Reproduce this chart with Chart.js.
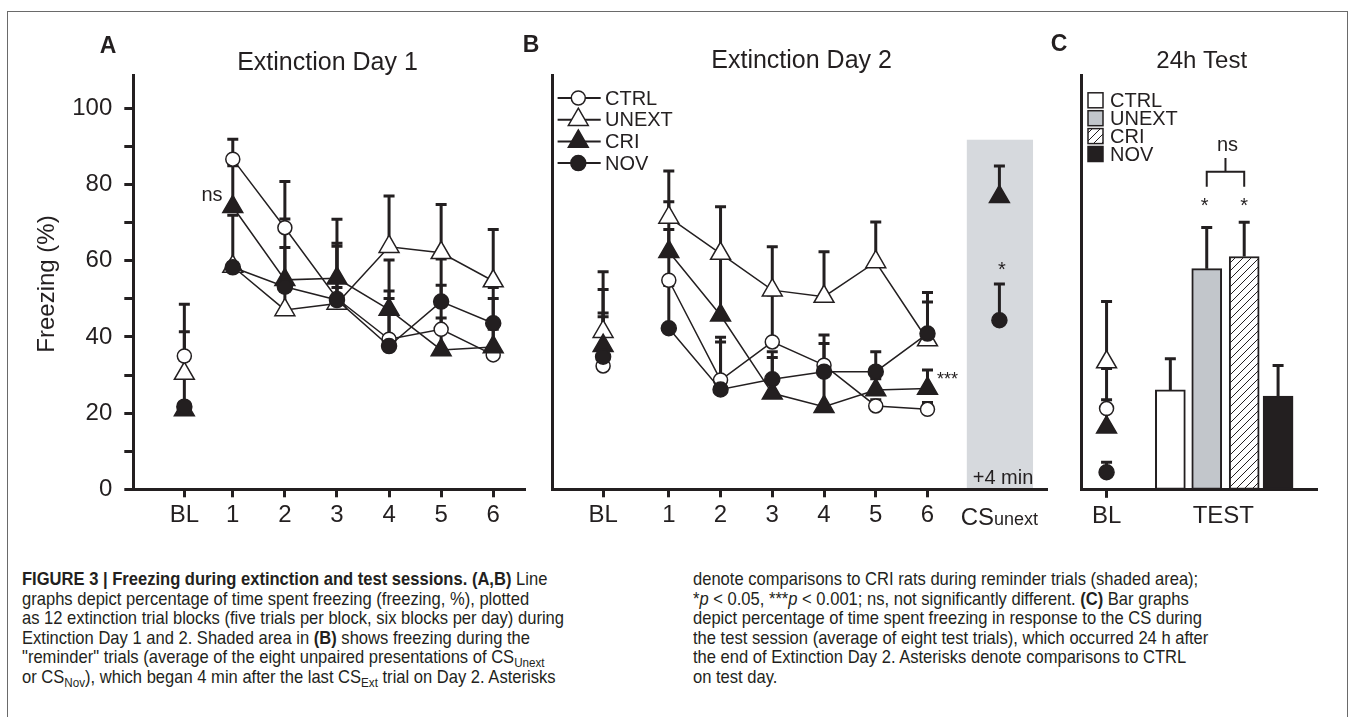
<!DOCTYPE html>
<html>
<head>
<meta charset="utf-8">
<title>Figure 3 - Freezing during extinction and test sessions</title>
<script src="https://cdn.jsdelivr.net/npm/chart.js@4.4.1/dist/chart.umd.min.js"></script>
<style>
  html, body { margin: 0; padding: 0; background: #fff; }
  #page { position: relative; width: 1350px; height: 717px; overflow: hidden; color: #231f20;
          font-family: "Liberation Sans", Arial, sans-serif; }
  #frame { position: absolute; left: 7px; top: 11px; width: 1341px; height: 760px;
           border: 1px solid #6a6a6a; box-sizing: border-box; }
  canvas { position: absolute; top: 0; }
  .cap { position: absolute; white-space: nowrap; font-size: 18.5px; line-height: 20px;
         transform-origin: 0 50%; font-family: "Liberation Sans Narrow", "Liberation Sans", Arial, sans-serif; }
  .cap sub { font-size: 13px; vertical-align: -4px; line-height: 0; }
</style>
</head>
<body>
<div id="page">
  <div id="frame"></div>
  <canvas id="day1" width="545" height="560" style="left:0"></canvas>
  <canvas id="day2" width="555" height="560" style="left:505px"></canvas>
  <canvas id="test" width="305" height="560" style="left:1045px"></canvas>

  <div class="cap" style="left:22px;top:569px"><b>FIGURE 3 | Freezing during extinction and test sessions. (A,B)</b> Line</div>
  <div class="cap" style="left:22px;top:588.6px">graphs depict percentage of time spent freezing (freezing, %), plotted</div>
  <div class="cap" id="capRef" style="left:22px;top:608.2px">as 12 extinction trial blocks (five trials per block, six blocks per day) during</div>
  <div class="cap" style="left:22px;top:627.8px">Extinction Day 1 and 2. Shaded area in <b>(B)</b> shows freezing during the</div>
  <div class="cap" style="left:22px;top:647.4px">&quot;reminder&quot; trials (average of the eight unpaired presentations of CS<sub>Unext</sub></div>
  <div class="cap" style="left:22px;top:667px">or CS<sub>Nov</sub>), which began 4 min after the last CS<sub>Ext</sub> trial on Day 2. Asterisks</div>

  <div class="cap" style="left:693px;top:569px">denote comparisons to CRI rats during reminder trials (shaded area);</div>
  <div class="cap" style="left:693px;top:588.6px">*<i>p</i> &lt; 0.05, ***<i>p</i> &lt; 0.001; ns, not significantly different. <b>(C)</b> Bar graphs</div>
  <div class="cap" style="left:693px;top:608.2px">depict percentage of time spent freezing in response to the CS during</div>
  <div class="cap" style="left:693px;top:627.8px">the test session (average of eight test trials), which occurred 24 h after</div>
  <div class="cap" style="left:693px;top:647.4px">the end of Extinction Day 2. Asterisks denote comparisons to CTRL</div>
  <div class="cap" style="left:693px;top:667px">on test day.</div>
</div>

<script>
// groups and x categories
const groups = ['CTRL', 'UNEXT', 'CRI', 'NOV'];
const blockLabels = ['BL', '1', '2', '3', '4', '5', '6'];
const day1Pos = [0.07, 1, 2, 3, 4, 5, 6];
const day2Pos = [-0.27, 1, 2, 3, 4, 5, 6];
const reminderPos = 7.39;
const testLabels = ['BL', 'TEST'];
const testLabelPos = [0, 3.24];
const testBarPos = [1.77, 2.78, 3.82, 4.76];

// Extinction Day 1, freezing (%) : BL, blocks 1-6
const day1Ctrl  = [35.0, 86.7, 68.7, 50.1, 39.4, 42.0, 35.3];
const day1Unext = [30.4, 58.5, 47.1, 48.8, 63.7, 62.1, 54.7];
const day1Cri   = [20.8, 74.2, 55.0, 55.4, 47.2, 36.6, 37.4];
const day1Nov   = [21.7, 58.3, 53.2, 49.7, 37.6, 49.3, 43.6];
// top of each error bar (mean + SEM)
const day1CtrlErr  = [41.4, 91.9, 80.8, 64.6, 52.1, 60.5, 42.0];
const day1UnextErr = [48.6, 59.5, 52.0, 53.0, 77.0, 74.8, 68.2];
const day1CriErr   = [22.0, 85.0, 71.0, 70.9, 60.2, 45.0, 53.0];
const day1NovErr   = [33.9, 72.0, 63.5, 63.8, 50.1, 53.6, 50.1];

// Extinction Day 2, freezing (%) : BL, blocks 1-6
const day2Ctrl  = [32.4, 54.9, 28.7, 38.7, 32.6, 21.9, 21.0];
const day2Unext = [41.4, 71.4, 61.9, 52.3, 50.6, 59.7, 39.2];
const day2Cri   = [37.7, 62.4, 45.7, 25.2, 21.7, 26.1, 26.5];
const day2Nov   = [34.8, 42.3, 26.2, 28.9, 30.9, 30.9, 40.9];
const day2CtrlErr  = [45.3, 68.2, 39.9, 51.0, 40.5, 23.5, 22.8];
const day2UnextErr = [57.1, 83.6, 74.2, 63.7, 62.4, 70.2, 49.2];
const day2CriErr   = [52.5, 75.5, 61.0, 34.6, 30.0, 29.0, 31.3];
const day2NovErr   = [46.3, 53.5, 38.7, 36.1, 38.3, 36.1, 51.7];

// reminder trials (CS unext / CS nov), 4 min after block 6
const reminderCri = [76.8];
const reminderCriErr = [84.9];
const reminderNov = [44.4];
const reminderNovErr = [53.9];
const reminderBand = { from: 6.76, to: 8.04, top: 91.8 };

// 24h test : CTRL, UNEXT, CRI, NOV
const testBl = [21.3, 33.5, 16.4, 4.6];
const testBlErr = [31.8, 49.4, 23.6, 7.2];
const testBars = [26.2, 58.0, 61.2, 24.6];
const testBarsErr = [34.4, 68.8, 70.2, 32.6];

const ink = '#231f20';
const family = '"Liberation Sans", Arial, sans-serif';
const narrow = '"Liberation Sans Narrow", "Liberation Sans", Arial, sans-serif';
const yMax = 108.8;

Chart.defaults.font.family = family;
Chart.defaults.color = ink;

const markers = {
  CTRL:  { pointStyle: 'circle',   radius: 7,    fill: '#ffffff' },
  UNEXT: { pointStyle: 'triangle', radius: 11.5, fill: '#ffffff' },
  CRI:   { pointStyle: 'triangle', radius: 11.5, fill: ink },
  NOV:   { pointStyle: 'circle',   radius: 7.5,  fill: ink }
};

// diagonal hatch for the CRI bar
function hatch(size) {
  const c = document.createElement('canvas');
  c.width = size; c.height = size;
  const g = c.getContext('2d');
  g.fillStyle = '#fff';
  g.fillRect(0, 0, size, size);
  g.strokeStyle = ink;
  g.lineWidth = 1;
  g.beginPath();
  g.moveTo(0, size); g.lineTo(size, 0);
  g.moveTo(-1, 1); g.lineTo(1, -1);
  g.moveTo(size - 1, size + 1); g.lineTo(size + 1, size - 1);
  g.stroke();
  return g.createPattern(c, 'repeat');
}
const barFills = ['#ffffff', '#c2c6cb', hatch(8), ink];

function points(pos, vals) {
  return vals.map((v, i) => ({ x: Array.isArray(pos) ? pos[i] : pos, y: v }));
}

function lineSet(group, pos, vals, tops, connect) {
  const m = markers[group];
  return {
    label: group,
    data: points(pos, vals),
    errorTops: tops,
    showLine: connect,
    borderColor: ink,
    borderWidth: 1.5,
    backgroundColor: m.fill,
    pointStyle: m.pointStyle,
    pointRadius: m.radius,
    pointHoverRadius: m.radius,
    pointBackgroundColor: m.fill,
    pointBorderColor: ink,
    pointBorderWidth: 1.5,
    segment: { borderColor: c => (c.p0DataIndex === 0 ? 'rgba(0,0,0,0)' : ink) },
    tension: 0,
    clip: false
  };
}

// error bars go under the markers
const errorBars = {
  id: 'errorBars',
  beforeDatasetsDraw(chart) {
    const ctx = chart.ctx, xs = chart.scales.x, ys = chart.scales.y;
    ctx.save();
    ctx.strokeStyle = ink;
    ctx.lineWidth = 3;
    chart.data.datasets.forEach(ds => {
      if (!ds.errorTops) return;
      ds.data.forEach((d, i) => {
        const top = ds.errorTops[i];
        if (top == null) return;
        const x = xs.getPixelForValue(d.x);
        const y0 = ys.getPixelForValue(d.y);
        const y1 = ys.getPixelForValue(top);
        ctx.beginPath();
        ctx.moveTo(x, y0); ctx.lineTo(x, y1);
        ctx.moveTo(x - 5.5, y1); ctx.lineTo(x + 5.5, y1);
        ctx.stroke();
      });
    });
    ctx.restore();
  }
};

const panelText = {
  id: 'panelText',
  afterDraw(chart, args, opts) {
    const ctx = chart.ctx;
    (opts.items || []).forEach(t => {
      ctx.save();
      ctx.font = t.font;
      ctx.fillStyle = ink;
      ctx.textAlign = t.align || 'center';
      ctx.textBaseline = 'middle';
      ctx.translate(t.x, t.y);
      if (t.rotate) ctx.rotate(t.rotate);
      ctx.fillText(t.text, 0, 0);
      ctx.restore();
    });
  }
};

function baseOptions(o) {
  return {
    responsive: false,
    animation: false,
    events: [],
    layout: { padding: o.padding },
    plugins: { legend: { display: false }, tooltip: { enabled: false }, panelText: { items: o.text } },
    scales: {
      x: {
        type: 'linear', min: o.xMin, max: o.xMax, offset: false,
        afterBuildTicks: s => { s.ticks = o.xTicks.map(v => ({ value: v })); },
        afterFit: s => { s.height = o.xHeight; },
        border: { color: ink, width: 3 },
        grid: { drawOnChartArea: false, offset: false, tickLength: 8, tickWidth: 3,
                tickColor: c => (o.xTickHidden && o.xTickHidden.includes(c.index) ? 'rgba(0,0,0,0)' : ink) },
        ticks: { autoSkip: false, maxRotation: 0, padding: 4, color: ink, font: { size: 24 },
                 callback: (v, i) => o.xLabels[i] }
      },
      y: {
        min: 0, max: yMax,
        afterFit: s => { s.width = o.yWidth; },
        border: { color: ink, width: 3 },
        grid: { drawOnChartArea: false, drawTicks: !!o.yLabels, tickLength: 9, tickWidth: 3, tickColor: ink },
        ticks: { display: !!o.yLabels, stepSize: 10, includeBounds: false, padding: 12, color: ink,
                 font: { size: 24 }, callback: v => (v % 20 === 0 ? String(v) : '') }
      }
    }
  };
}

// ---- A: Extinction Day 1
new Chart(document.getElementById('day1'), {
  type: 'scatter',
  data: { datasets: [
    lineSet('NOV', day1Pos, day1Nov, day1NovErr, true),
    lineSet('CRI', day1Pos, day1Cri, day1CriErr, true),
    lineSet('CTRL', day1Pos, day1Ctrl, day1CtrlErr, true),
    lineSet('UNEXT', day1Pos, day1Unext, day1UnextErr, true)
  ] },
  options: baseOptions({
    padding: { top: 75, right: 20, left: 0, bottom: 0 },
    yWidth: 133.3, xHeight: 560 - 489.3,
    xMin: -0.91, xMax: 6.61, xTicks: day1Pos, xLabels: blockLabels, yLabels: true,
    text: [
      { text: 'A', x: 108, y: 46.5, font: 'bold 23px ' + narrow },
      { text: 'Extinction Day 1', x: 327.5, y: 63, font: '25px ' + family },
      { text: 'Freezing (%)', x: 47.5, y: 284, font: '24px ' + family, rotate: -Math.PI / 2 },
      { text: 'ns', x: 212, y: 195, font: '20px ' + family }
    ]
  }),
  plugins: [errorBars, panelText]
});

// ---- B: Extinction Day 2
const reminderShade = {
  id: 'reminderShade',
  beforeDraw(chart) {
    const ctx = chart.ctx, xs = chart.scales.x, ys = chart.scales.y;
    const x0 = xs.getPixelForValue(reminderBand.from), x1 = xs.getPixelForValue(reminderBand.to);
    const y0 = ys.getPixelForValue(reminderBand.top), y1 = ys.getPixelForValue(0);
    ctx.save();
    ctx.fillStyle = '#d6d9dd';
    ctx.fillRect(x0, y0, x1 - x0, y1 - y0);
    ctx.restore();
  },
  afterDraw(chart) {
    // "CS unext" category label under the reminder trials
    const ctx = chart.ctx, xs = chart.scales.x;
    const cx = xs.getPixelForValue(reminderPos);
    ctx.save();
    ctx.fillStyle = ink;
    ctx.textBaseline = 'alphabetic';
    ctx.font = '24px ' + family;
    const w1 = ctx.measureText('CS').width;
    ctx.font = '18px ' + family;
    const w2 = ctx.measureText('unext').width;
    const x = cx - (w1 + w2) / 2;
    ctx.font = '24px ' + family;
    ctx.fillText('CS', x, 524.5);
    ctx.font = '18px ' + family;
    ctx.fillText('unext', x + w1, 524.5);
    ctx.restore();
  }
};

const lineLegend = {
  id: 'lineLegend',
  afterDraw(chart) {
    const ctx = chart.ctx;
    ctx.save();
    groups.forEach((g, i) => {
      const y = 98 + i * 21.7;
      const m = markers[g];
      ctx.strokeStyle = ink;
      ctx.lineWidth = 2;
      ctx.beginPath(); ctx.moveTo(52.6, y); ctx.lineTo(95.7, y); ctx.stroke();
      ctx.fillStyle = m.fill;
      ctx.lineWidth = 1.5;
      Chart.helpers.drawPoint(ctx, { pointStyle: m.pointStyle, radius: m.radius, rotation: 0, borderWidth: 1.5 }, 73.3, y);
      ctx.fillStyle = ink;
      ctx.font = '20px ' + family;
      ctx.textAlign = 'left';
      ctx.textBaseline = 'middle';
      ctx.fillText(g, 100, y + 1);
    });
    ctx.restore();
  }
};

new Chart(document.getElementById('day2'), {
  type: 'scatter',
  data: { datasets: [
    lineSet('NOV', reminderPos, reminderNov, reminderNovErr, false),
    lineSet('CRI', reminderPos, reminderCri, reminderCriErr, false),
    lineSet('NOV', day2Pos, day2Nov, day2NovErr, true),
    lineSet('CRI', day2Pos, day2Cri, day2CriErr, true),
    lineSet('CTRL', day2Pos, day2Ctrl, day2CtrlErr, true),
    lineSet('UNEXT', day2Pos, day2Unext, day2UnextErr, true)
  ] },
  options: baseOptions({
    padding: { top: 75, right: 10, left: 0, bottom: 0 },
    yWidth: 47.4, xHeight: 560 - 489.3,
    xMin: -1.25, xMax: 8.31, xTicks: day2Pos, xLabels: blockLabels, yLabels: false,
    text: [
      { text: 'B', x: 26, y: 46, font: 'bold 23px ' + narrow },
      { text: 'Extinction Day 2', x: 296.6, y: 61, font: '25px ' + family },
      { text: '***', x: 432, y: 380, font: '18px ' + family, align: 'left' },
      { text: '*', x: 497, y: 270, font: '20px ' + family },
      { text: '+4 min', x: 498, y: 478.3, font: '20px ' + family }
    ]
  }),
  plugins: [reminderShade, errorBars, lineLegend, panelText]
});

// ---- C: 24h Test
const boxLegend = {
  id: 'boxLegend',
  afterDraw(chart) {
    const ctx = chart.ctx, xs = chart.scales.x;
    ctx.save();
    groups.forEach((g, i) => {
      const y = 100.3 + i * 17.9;
      ctx.fillStyle = barFills[i];
      ctx.fillRect(43, y - 7.5, 15, 15);
      ctx.strokeStyle = ink;
      ctx.lineWidth = 1.5;
      ctx.strokeRect(43, y - 7.5, 15, 15);
      ctx.fillStyle = ink;
      ctx.font = '20px ' + family;
      ctx.textAlign = 'left';
      ctx.textBaseline = 'middle';
      ctx.fillText(g, 65, y + 1);
    });
    // ns bracket between UNEXT and CRI bars
    const xa = xs.getPixelForValue(testBarPos[1]);
    const xb = xs.getPixelForValue(testBarPos[2]);
    ctx.lineWidth = 2;
    ctx.beginPath();
    ctx.moveTo(xa, 186.7); ctx.lineTo(xa, 171.7); ctx.lineTo(xb, 171.7); ctx.lineTo(xb, 186.7);
    ctx.moveTo((xa + xb) / 2, 171.7); ctx.lineTo((xa + xb) / 2, 158);
    ctx.stroke();
    ctx.font = '20px ' + family;
    ctx.textAlign = 'center';
    ctx.fillText('ns', (xa + xb) / 2 + 2, 145);
    ctx.fillText('*', xa - 2, 206);
    ctx.fillText('*', xb, 206);
    ctx.restore();
  }
};

const blSets = groups.map((g, i) => lineSet(g, 0, [testBl[i]], [testBlErr[i]], false)).reverse();

new Chart(document.getElementById('test'), {
  type: 'scatter',
  data: { datasets: [
    ...blSets,
    {
      type: 'bar',
      label: 'TEST',
      data: points(testBarPos, testBars),
      errorTops: testBarsErr,
      backgroundColor: barFills,
      borderColor: ink,
      borderWidth: 2,
      borderSkipped: false,
      barThickness: 30,
      grouped: false
    }
  ] },
  options: baseOptions({
    padding: { top: 75, right: 33, left: 0, bottom: 0 },
    yWidth: 36.7, xHeight: 560 - 489.8,
    xMin: -0.69, xMax: 5.84, xTicks: testLabelPos, xLabels: testLabels, yLabels: false, xTickHidden: [1],
    text: [
      { text: 'C', x: 14, y: 45, font: 'bold 23px ' + narrow },
      { text: '24h Test', x: 156.7, y: 61.7, font: '24px ' + family }
    ]
  }),
  plugins: [errorBars, boxLegend, panelText]
});

// caption lines: squeeze to the condensed face of the printed figure
const ref = document.getElementById('capRef');
const k = 542 / ref.getBoundingClientRect().width;
document.querySelectorAll('.cap').forEach(el => { el.style.transform = 'scaleX(' + k + ')'; });
</script>
</body>
</html>
